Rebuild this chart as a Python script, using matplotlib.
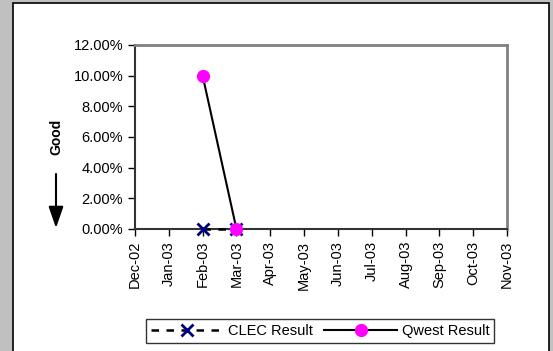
import matplotlib.pyplot as plt
from matplotlib.patches import Rectangle
from matplotlib.ticker import FuncFormatter

plt.rcParams["font.family"] = ["Liberation Sans", "DejaVu Sans"]

months = ["Dec-02", "Jan-03", "Feb-03", "Mar-03", "Apr-03", "May-03",
          "Jun-03", "Jul-03", "Aug-03", "Sep-03", "Oct-03", "Nov-03"]
clec_months = ["Feb-03", "Mar-03"]
clec_values = [0.0, 0.0]
qwest_months = ["Feb-03", "Mar-03"]
qwest_values = [0.10, 0.0]
y_ticks = [0.0, 0.02, 0.04, 0.06, 0.08, 0.10, 0.12]

fig = plt.figure(figsize=(5.53, 3.51), dpi=100)
fig.patch.set_facecolor("#c0c0c0")

# white chart area with black frame
panel = Rectangle((13 / 553, -0.05), 536 / 553, 1.05 - 3 / 351,
                  transform=fig.transFigure, facecolor="white",
                  edgecolor="black", linewidth=1.2, zorder=-5)
fig.patches.append(panel)

ax = fig.add_axes([135 / 553, 1 - 229 / 351, 372 / 553, 184 / 351])
ax.set_zorder(2)
ax.set_facecolor("white")

pos = {m: i for i, m in enumerate(months)}
ax.plot([pos[m] for m in clec_months], clec_values, color="black",
        linestyle=(0, (3, 3)), linewidth=1.8, marker="x", markersize=8.5,
        markeredgecolor="#000080", markeredgewidth=2, label="CLEC Result",
        zorder=3, clip_on=False)
ax.plot([pos[m] for m in qwest_months], qwest_values, color="black",
        linewidth=1.5, marker="o", markersize=8.5, markerfacecolor="#ff00ff",
        markeredgecolor="#ff00ff", label="Qwest Result", zorder=4,
        clip_on=False)

ax.set_xlim(0, len(months) - 1)
ax.set_xticks(range(len(months)))
ax.set_xticklabels(months, rotation=90, fontsize=10.5)
ax.set_ylim(0, 0.12)
ax.set_yticks(y_ticks)
ax.yaxis.set_major_formatter(FuncFormatter(lambda v, _: f"{v * 100:.2f}%"))
ax.tick_params(axis="y", labelsize=10.5, length=5, width=1, direction="out")
ax.tick_params(axis="x", length=5, width=1, direction="out")

for side in ["top", "right"]:
    ax.spines[side].set_color("#808080")
    ax.spines[side].set_linewidth(2)
for side in ["left", "bottom"]:
    ax.spines[side].set_color("#333333")
    ax.spines[side].set_linewidth(1.5)

fig.text(56 / 553, 1 - 137 / 351, "Good", rotation=90, fontsize=10,
         fontweight="bold", ha="center", va="center")
fig.add_artist(plt.Annotation(
    "", xy=(56 / 553, 1 - 228 / 351), xytext=(56 / 553, 1 - 174 / 351),
    xycoords="figure fraction", textcoords="figure fraction",
    arrowprops=dict(arrowstyle="-|>,head_length=1.3,head_width=0.45",
                    color="black", lw=1.5, shrinkA=0, shrinkB=0)))

leg = fig.legend(loc="center", bbox_to_anchor=(320 / 553, 1 - 331 / 351),
                 ncol=2, fontsize=10.5, frameon=True, fancybox=False,
                 handlelength=5.0, columnspacing=0.8, handletextpad=0.3,
                 borderpad=0.35, borderaxespad=0)
leg.get_frame().set_edgecolor("black")
leg.get_frame().set_linewidth(1)

fig.savefig("out.png", dpi=100, facecolor=fig.get_facecolor())
